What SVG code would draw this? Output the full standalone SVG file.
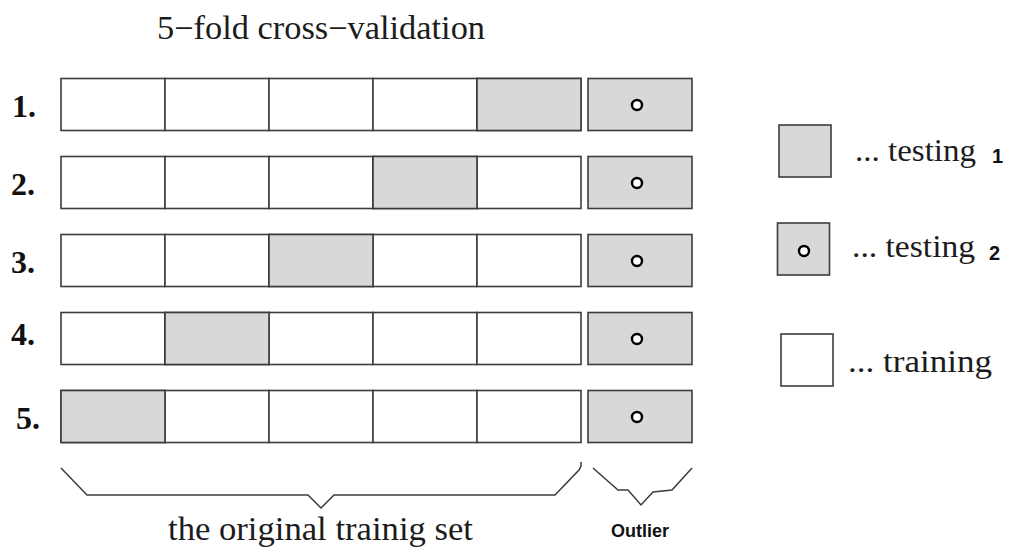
<svg xmlns="http://www.w3.org/2000/svg" width="1010" height="547" viewBox="0 0 1010 547">
<style>
.c{stroke:#3c3c3c;stroke-width:1.6;fill:#fff}
.g{fill:#d8d8d8}
.dot{fill:#fff;stroke:#000;stroke-width:2.4}
.serif{font-family:"Liberation Serif","Times New Roman",serif;fill:#1c1c1c}
.lbl{font-family:"Liberation Serif","Times New Roman",serif;font-weight:bold;font-size:32px;fill:#111}
.sans{font-family:"Liberation Sans",Arial,sans-serif;font-weight:bold;fill:#111}
.br{fill:none;stroke:#3c3c3c;stroke-width:1.5}
</style>
<defs>
<g id="row5">
<rect class="c" x="61" y="0" width="104" height="52"/>
<rect class="c" x="165" y="0" width="104" height="52"/>
<rect class="c" x="269" y="0" width="104" height="52"/>
<rect class="c" x="373" y="0" width="104" height="52"/>
<rect class="c" x="477" y="0" width="104" height="52"/>
<rect class="c g" x="588" y="0" width="104" height="52"/>
<circle class="dot" cx="637" cy="26.5" r="5"/>
</g>
</defs>
<text class="serif" x="157" y="39" font-size="33" textLength="328" lengthAdjust="spacingAndGlyphs">5−fold cross−validation</text>

<g id="row1">
<use href="#row5" y="78.5"/>
<rect class="c g" x="477" y="78.5" width="104" height="52"/>
<text class="lbl" x="12" y="117">1.</text>
</g>
<g id="row2">
<use href="#row5" y="156.5"/>
<rect class="c g" x="373" y="156.5" width="104" height="52"/>
<text class="lbl" x="11" y="195">2.</text>
</g>
<g id="row3">
<use href="#row5" y="234.5"/>
<rect class="c g" x="269" y="234.5" width="104" height="52"/>
<text class="lbl" x="11" y="273">3.</text>
</g>
<g id="row4">
<use href="#row5" y="312.5"/>
<rect class="c g" x="165" y="312.5" width="104" height="52"/>
<text class="lbl" x="11" y="345">4.</text>
</g>
<g id="row5g">
<use href="#row5" y="390.5"/>
<rect class="c g" x="61" y="390.5" width="104" height="52"/>
<text class="lbl" x="16" y="429">5.</text>
</g>

<g id="connectors">
<path class="br" d="M61,468 L87,495 L308,495 L321,508 L334,495 L555,495 L579,470 L581,466 L581,462"/>
<path class="br" d="M593,468 L618,490 L628,490 L641,505 L653,492 L672,490 L692,468"/>
</g>

<g id="label-train">
<text class="serif" x="168" y="540" font-size="33" textLength="305" lengthAdjust="spacingAndGlyphs">the original trainig set</text>
</g>
<g id="label-outlier">
<text class="sans" x="611" y="537" font-size="17.5" textLength="58" lengthAdjust="spacingAndGlyphs">Outlier</text>
</g>

<g id="legend-test1">
<rect class="c g" x="779" y="125" width="52" height="52"/>
<text class="serif" x="855" y="161" font-size="32" textLength="121" lengthAdjust="spacingAndGlyphs">... testing</text>
<text class="sans" x="992" y="163" font-size="20">1</text>
</g>
<g id="legend-test2">
<rect class="c g" x="777.5" y="223" width="52" height="52"/>
<circle class="dot" cx="804" cy="251" r="5"/>
<text class="serif" x="852" y="257" font-size="32" textLength="123" lengthAdjust="spacingAndGlyphs">... testing</text>
<text class="sans" x="989" y="260" font-size="20">2</text>
</g>
<g id="legend-train">
<rect class="c" x="781" y="334" width="52" height="52"/>
<text class="serif" x="848" y="372" font-size="32" textLength="144" lengthAdjust="spacingAndGlyphs">... training</text>
</g>
</svg>
